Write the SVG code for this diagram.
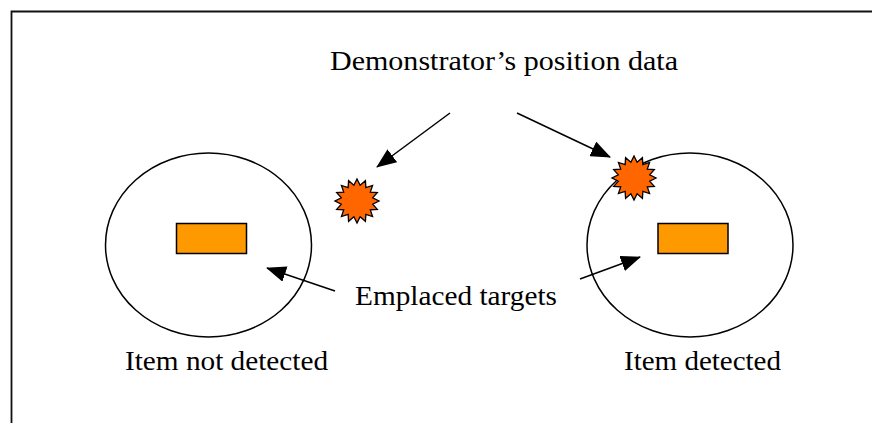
<svg xmlns="http://www.w3.org/2000/svg" width="872" height="423" viewBox="0 0 872 423">
  <style>
    .lbl { font-family: "Liberation Serif", "Times New Roman", serif; font-size: 28px; fill: #000; }
    .ring { fill: none; stroke: #000; stroke-width: 1.5; }
    .tgt { fill: #FF9900; stroke: #000; stroke-width: 1.5; }
    .burst { fill: #FF6600; stroke: #000; stroke-width: 1.3; }
    .conn { stroke: #000; stroke-width: 1.5; fill: none; marker-end: url(#arrow); }
  </style>
  <defs>
    <marker id="arrow" markerUnits="userSpaceOnUse" markerWidth="20" markerHeight="16" refX="19" refY="8" orient="auto" viewBox="0 0 20 16">
      <path d="M0,0 L20,8 L0,16 Z" fill="#000"/>
    </marker>
    <polygon id="star" points="0,-22 3.12,-15.69 8.42,-20.33 8.89,-13.3 15.56,-15.56 13.3,-8.89 20.33,-8.42 15.69,-3.12 22,0 15.69,3.12 20.33,8.42 13.3,8.89 15.56,15.56 8.89,13.3 8.42,20.33 3.12,15.69 0,22 -3.12,15.69 -8.42,20.33 -8.89,13.3 -15.56,15.56 -13.3,8.89 -20.33,8.42 -15.69,3.12 -22,0 -15.69,-3.12 -20.33,-8.42 -13.3,-8.89 -15.56,-15.56 -8.89,-13.3 -8.42,-20.33 -3.12,-15.69"/>
  </defs>

  <g id="frame">
    <path d="M11.5,423 L11.5,11.5 L872,11.5" fill="none" stroke="#111" stroke-width="1.8"/>
  </g>

  <g id="title">
    <text class="lbl" x="330" y="70" textLength="348" lengthAdjust="spacingAndGlyphs">Demonstrator’s position data</text>
  </g>

  <g id="left-area">
    <ellipse class="ring" cx="208.5" cy="245" rx="103" ry="92"/>
    <rect class="tgt" x="176.5" y="223.5" width="70" height="30"/>
    <text class="lbl" x="125" y="370" textLength="203" lengthAdjust="spacingAndGlyphs">Item not detected</text>
  </g>

  <g id="right-area">
    <ellipse class="ring" cx="690" cy="245" rx="103" ry="92"/>
    <rect class="tgt" x="658" y="223.5" width="70" height="30"/>
    <text class="lbl" x="624" y="370" textLength="157" lengthAdjust="spacingAndGlyphs">Item detected</text>
  </g>

  <g id="left-position">
    <use href="#star" class="burst" transform="translate(357,201)"/>
  </g>

  <g id="right-position">
    <use href="#star" class="burst" transform="translate(634,178)"/>
  </g>

  <g id="emplaced-label">
    <text class="lbl" x="355" y="305" textLength="202" lengthAdjust="spacingAndGlyphs">Emplaced targets</text>
  </g>

  <g id="connectors">
    <line class="conn" x1="450" y1="113" x2="377" y2="167"/>
    <line class="conn" x1="517" y1="113" x2="610" y2="157"/>
    <line class="conn" x1="335" y1="291" x2="267" y2="268"/>
    <line class="conn" x1="580" y1="279" x2="640" y2="257"/>
  </g>
</svg>
